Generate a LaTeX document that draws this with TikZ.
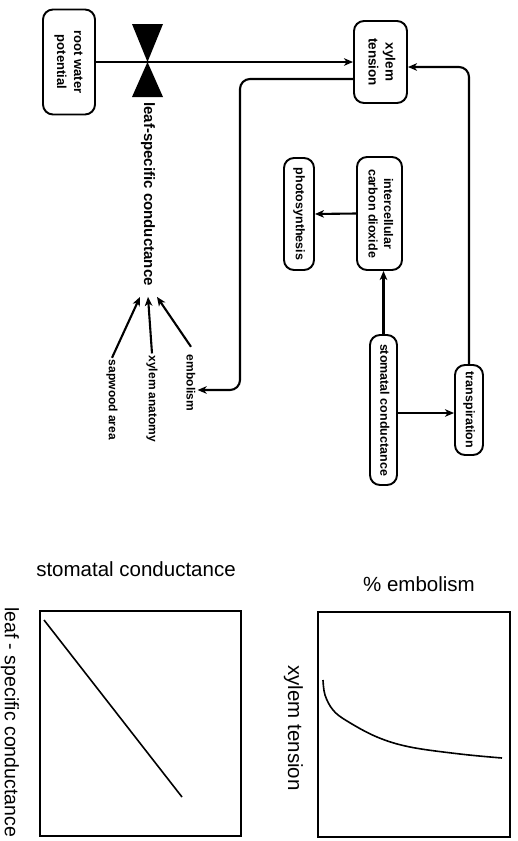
\documentclass[tikz,border=0pt]{standalone}
\usepackage{fontspec}
\setmainfont{Liberation Sans}
\usepackage{graphicx}
\usetikzlibrary{arrows.meta}
\newcommand\rtext[1]{\rotatebox[origin=c]{-90}{\begin{tabular}{@{}c@{}}#1\end{tabular}}}
\begin{document}
\begin{tikzpicture}[x=1pt,y=-1pt,
 box/.style={draw, line width=1.9pt, rounded corners=10pt, inner sep=0pt, font=\bfseries\fontsize{12.5}{15.5}\selectfont},
 lbl/.style={inner sep=2pt, font=\bfseries\fontsize{12}{14}\selectfont},
 arr/.style={line width=2.1pt, -{Stealth[length=9pt,width=7.5pt,inset=2.5pt]}},
 title/.style={font=\fontsize{20.5}{24}\selectfont, inner sep=0pt},
 frame/.style={line width=1.8pt},
 curve/.style={line width=1.6pt}]
\useasboundingbox (0,0) rectangle (517,841);
% boxes
\node[box, minimum width=52pt, minimum height=105pt, font=\bfseries\fontsize{13}{17}\selectfont] (root) at (69,62) {\rtext{root water\\potential}};
\node[box, minimum width=53pt, minimum height=82pt, font=\bfseries\fontsize{13.5}{17}\selectfont] (xt) at (380.5,62) {\rtext{xylem\\tension}};
\node[box, minimum width=45pt, minimum height=113pt] (inter) at (379.5,213.5) {\rtext{intercellular\\carbon dioxide}};
\node[box, minimum width=30pt, minimum height=112pt] (photo) at (299,214) {\rtext{photosynthesis}};
\node[box, minimum width=27pt, minimum height=150pt] (stom) at (383.5,410) {\rtext{stomatal conductance}};
\node[box, minimum width=28pt, minimum height=90pt] (trans) at (469,410) {\rtext{transpiration}};
% labels
\node[inner sep=3pt, font=\bfseries\fontsize{15}{18}\selectfont] (lcond) at (148,194) {\rotatebox{-90}{leaf-specific conductance}};
\node[lbl] (sap) at (112,400) {\rotatebox{-90}{sapwood area}};
\node[lbl] (xa) at (152,399) {\rotatebox{-90}{xylem anatomy}};
\node[lbl] (emb) at (191,383) {\rotatebox{-90}{embolism}};
% valve
\coordinate (valve) at (147.5,62);
\fill (132,24) -- (163,24) -- (valve) -- cycle;
\fill (132,97) -- (163,97) -- (valve) -- cycle;
% connectors
\draw[arr] (root.east) -- (xt.west);
\draw[arr, rounded corners=10pt] ([yshift=-17pt]xt.west) -- (240,79) -- (240,390) -- (emb.east |- 240,390);
\draw[arr, rounded corners=10pt] (trans.north) |- ([yshift=-5pt]xt.east);
\draw[arr] ([yshift=-3pt]stom.east) -- ([yshift=-3pt]trans.west);
\draw[arr] (stom.north) -- (stom.north |- inter.south);
\draw[arr] (inter.west) -- (photo.east);
\draw[arr] (sap.north) -- ([xshift=-8pt,yshift=-8pt]lcond.south);
\draw[arr] (xa.north) -- ([yshift=-8pt]lcond.south);
\draw[arr] ([yshift=6pt]emb.north) -- ([xshift=9pt,yshift=-8pt]lcond.south);
% graph 1
\draw[frame] (40,611) rectangle (241,836);
\draw[curve] (44,620) -- (182,797);
\node[title] (t1) at (136,569) {stomatal conductance};
\node[title, font=\fontsize{19.5}{24}\selectfont] (y1) at (10,722) {\rotatebox{-90}{leaf - specific conductance}};
% graph 2
\draw[frame] (318,612) rectangle (510,837);
\draw[curve] plot[smooth, tension=0.6] coordinates {(323,680) (325,695) (333,710) (347,721) (377,737) (410,747) (460,754) (502,758)};
\node[title] (t2) at (419,584) {\% embolism};
\node[title] (y2) at (293.5,728) {\rotatebox{-90}{xylem tension}};
\end{tikzpicture}
\end{document}
